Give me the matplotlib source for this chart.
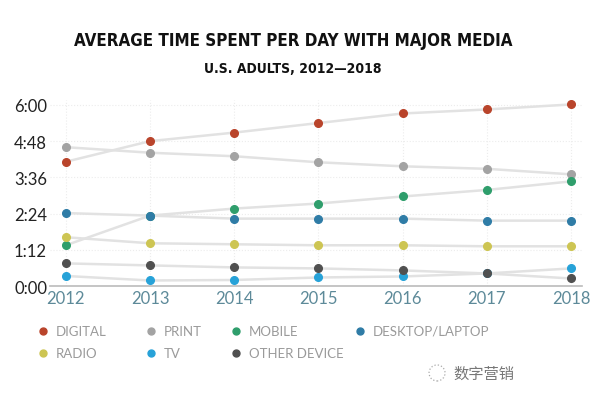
import matplotlib
matplotlib.use('Agg')
import matplotlib.pyplot as plt
from matplotlib.lines import Line2D
from matplotlib.patches import Ellipse
from matplotlib.ticker import FuncFormatter

plt.rcParams['font.family'] = ['Lato', 'DejaVu Sans']

# minutes per day
years = [2012, 2013, 2014, 2015, 2016, 2017, 2018]
digital = [247, 288, 305, 324, 343, 351, 361]
print_ = [276, 265, 258, 246, 238, 233, 222]
mobile = [81, 140, 154, 164, 178, 191, 208]
desktop = [145, 140, 134, 134, 134, 130, 130]
radio = [97, 85, 83, 81, 81, 79, 79]
tv = [20, 11, 12, 17, 19, 25, 35]
other = [45, 41, 37, 35, 31, 25, 15]

series = [
    ('DIGITAL', digital, '#b9442b'),
    ('PRINT', print_, '#a3a3a3'),
    ('MOBILE', mobile, '#2f9e6c'),
    ('DESKTOP/LAPTOP', desktop, '#2f7ca6'),
    ('RADIO', radio, '#cdc553'),
    ('TV', tv, '#27a2d8'),
    ('OTHER DEVICE', other, '#505050'),
]
yticks = [0, 72, 144, 216, 288, 360]

fig = plt.figure(figsize=(6.0, 4.02), dpi=100)
ax = fig.add_axes([0.083, 0.286, 0.887, 0.463])

for name, vals, col in series:
    ax.plot(years, vals, color='#e2e2e2', lw=1.8, zorder=2)
for name, vals, col in series:
    ax.plot(years, vals, 'o', color=col, ms=5.5, zorder=3, label=name)

ax.set_xlim(2011.81, 2018.13)
ax.set_ylim(0, 370)
ax.set_xticks(years)
ax.set_yticks(yticks)
ax.yaxis.set_major_formatter(FuncFormatter(lambda v, p: f'{int(v)//60}:{int(v)%60:02d}'))
ax.grid(True, color='#ececec', ls=':', lw=0.8, zorder=0)
for s in ['top', 'right', 'left']:
    ax.spines[s].set_visible(False)
ax.spines['bottom'].set_color('#bbbbbb')
ax.spines['bottom'].set_linewidth(1.2)
ax.tick_params(length=0)
ax.tick_params(axis='y', labelsize=12, labelcolor='#222222', pad=2)
ax.tick_params(axis='x', labelsize=12, labelcolor='#5d8a99', pad=3)

fig.text(0.488, 0.898, 'AVERAGE TIME SPENT PER DAY WITH MAJOR MEDIA',
         ha='center', va='center', fontsize=12.2, fontweight='bold',
         family='DejaVu Sans', fontstretch='condensed', color='#111111')
fig.text(0.488, 0.828, 'U.S. ADULTS, 2012\u20142018',
         ha='center', va='center', fontsize=10, fontweight='bold',
         family='DejaVu Sans', fontstretch='condensed', color='#111111')

# legend placed by hand, row by row (x in pixels of a 600 px wide figure)
W, H = 600.0, 402.0
col_x = [43, 151, 236, 360]
row_y = [332, 354]
for i, (name, vals, col) in enumerate(series):
    r, c = divmod(i, 4)
    fx, fy = col_x[c] / W, 1 - row_y[r] / H
    fig.add_artist(Line2D([fx], [fy], marker='o', ls='', color=col, ms=5,
                          transform=fig.transFigure))
    fig.text(fx + 13 / W, fy, name, ha='left', va='center', fontsize=9.5,
             color='#9a9a9a')

# watermark
fig.add_artist(Ellipse((437 / W, 1 - 374 / H), 16 / W, 16 / H,
                       transform=fig.transFigure, fill=False, ls=':',
                       lw=0.9, ec='#aaaaaa'))
fig.text(0.755, 1 - 374 / H, '数字营销', ha='left', va='center', fontsize=11,
         family=['Noto Sans CJK SC', 'DejaVu Sans'], color='#777777')

fig.savefig('out.png', dpi=100)
